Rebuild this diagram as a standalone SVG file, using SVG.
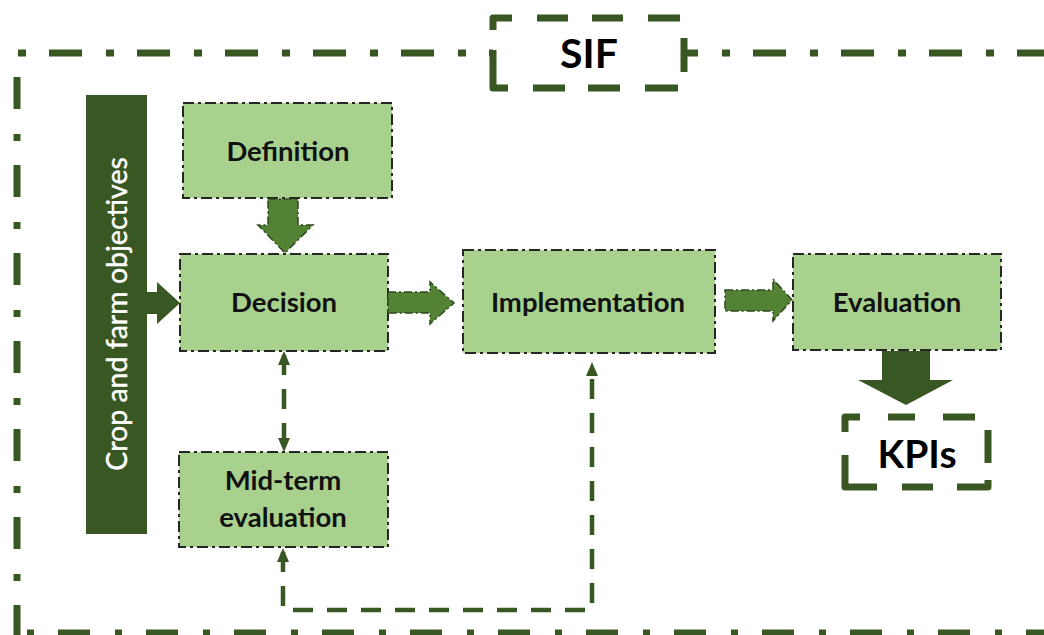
<svg xmlns="http://www.w3.org/2000/svg" width="1044" height="635" viewBox="0 0 1044 635">
<defs>
<style>
.frame{fill:none;stroke:#385723;stroke-width:7}
.node rect{fill:#a9d18e;stroke:#262626;stroke-width:2;stroke-dasharray:11 4 3 4}
.lbl{font-family:Lato,"Liberation Sans",sans-serif;font-weight:700;font-size:27.5px;fill:#111;text-anchor:middle}
.big{font-family:Lato,"Liberation Sans",sans-serif;font-weight:700;fill:#000;text-anchor:middle}
.box{fill:#fff;stroke:#385723;stroke-width:7;stroke-linejoin:round}
.mid{fill:#548235;stroke:#2f471f;stroke-width:1.5;stroke-dasharray:8 3 2 3}
.dark{fill:#385723}
.dash{fill:none;stroke:#385723;stroke-width:4.5;stroke-dasharray:20 14}
</style>
<marker id="ah" viewBox="0 0 14 14" markerUnits="userSpaceOnUse" markerWidth="14" markerHeight="14" refX="10" refY="7" orient="auto-start-reverse">
<path d="M0,1 L14,7 L0,13 Z" fill="#385723"/>
</marker>
</defs>
<rect width="1044" height="635" fill="#fff"/>
<g id="frame">
<path class="frame" d="M18,53 H1044" stroke-dasharray="8 23 33 24"/>
<path class="frame" d="M17,77 V640" stroke-dasharray="32 25 7 24"/>
<path class="frame" d="M27,633 H1044" stroke-dasharray="7 24 32 25"/>
</g>
<g id="sif">
<rect x="493" y="18" width="191" height="70" fill="#fff"/>
<path class="box" fill="none" d="M493,30 V18 H684 V88 H493 V30" stroke-dasharray="31 25 31 24 31 25 32 24 34 22 33 25 32 23 32 25 53 20"/>
<text class="big" x="589" y="68" font-size="41">SIF</text>
</g>
<g id="crop-objectives">
<rect x="86" y="95" width="61" height="439" fill="#385723"/>
<text transform="translate(127,314) rotate(-90)" x="0" y="0" font-family="Lato,'Liberation Sans',sans-serif" font-size="28.5" fill="#fff" stroke="#fff" stroke-width="0.4" text-anchor="middle">Crop and farm objectives</text>
</g>
<g id="definition" class="node">
<rect x="183" y="103" width="209" height="95"/>
<text class="lbl" x="288" y="161">Definition</text>
</g>
<g id="decision" class="node">
<rect x="180" y="254" width="208" height="97"/>
<text class="lbl" x="284" y="312">Decision</text>
</g>
<g id="implementation" class="node">
<rect x="463" y="250" width="252" height="103"/>
<text class="lbl" x="588" y="312">Implementation</text>
</g>
<g id="evaluation" class="node">
<rect x="793" y="254" width="208" height="96"/>
<text class="lbl" x="897" y="312">Evaluation</text>
</g>
<g id="midterm" class="node">
<rect x="179" y="452" width="209" height="95"/>
<text class="lbl" x="283" y="490">Mid-term</text>
<text class="lbl" x="283" y="527">evaluation</text>
</g>
<g id="kpis">
<rect x="845" y="417" width="143" height="70" fill="#fff"/>
<path class="box" fill="none" d="M845,432 V417 H988 V487 H845 V432" stroke-dasharray="30 28 27 28 32 26 33 17 38 24 31 25 64 23"/>
<text class="big" x="917" y="468" font-size="39">KPIs</text>
</g>
<g id="connectors">
<path class="dark" d="M147,292 H157 V282 L180,303 L157,324 V314 H147 Z"/>
<path class="mid" d="M268,199 H298 V225 H313 L285,253 L258,225 H268 Z"/>
<path class="mid" d="M388,292 H430 V282 L454,303 L430,324 V313 H388 Z"/>
<path class="mid" d="M725,290 H773 V279 L792,300 L773,321 V311 H725 Z"/>
<path class="dark" d="M882,351 H930 V380 H953 L906,405 L858,380 H882 Z"/>
<path class="dash" d="M284,355 V448" marker-start="url(#ah)" marker-end="url(#ah)"/>
<path class="dash" d="M283,552 V610 H592 V366" marker-start="url(#ah)" marker-end="url(#ah)"/>
</g>
</svg>
